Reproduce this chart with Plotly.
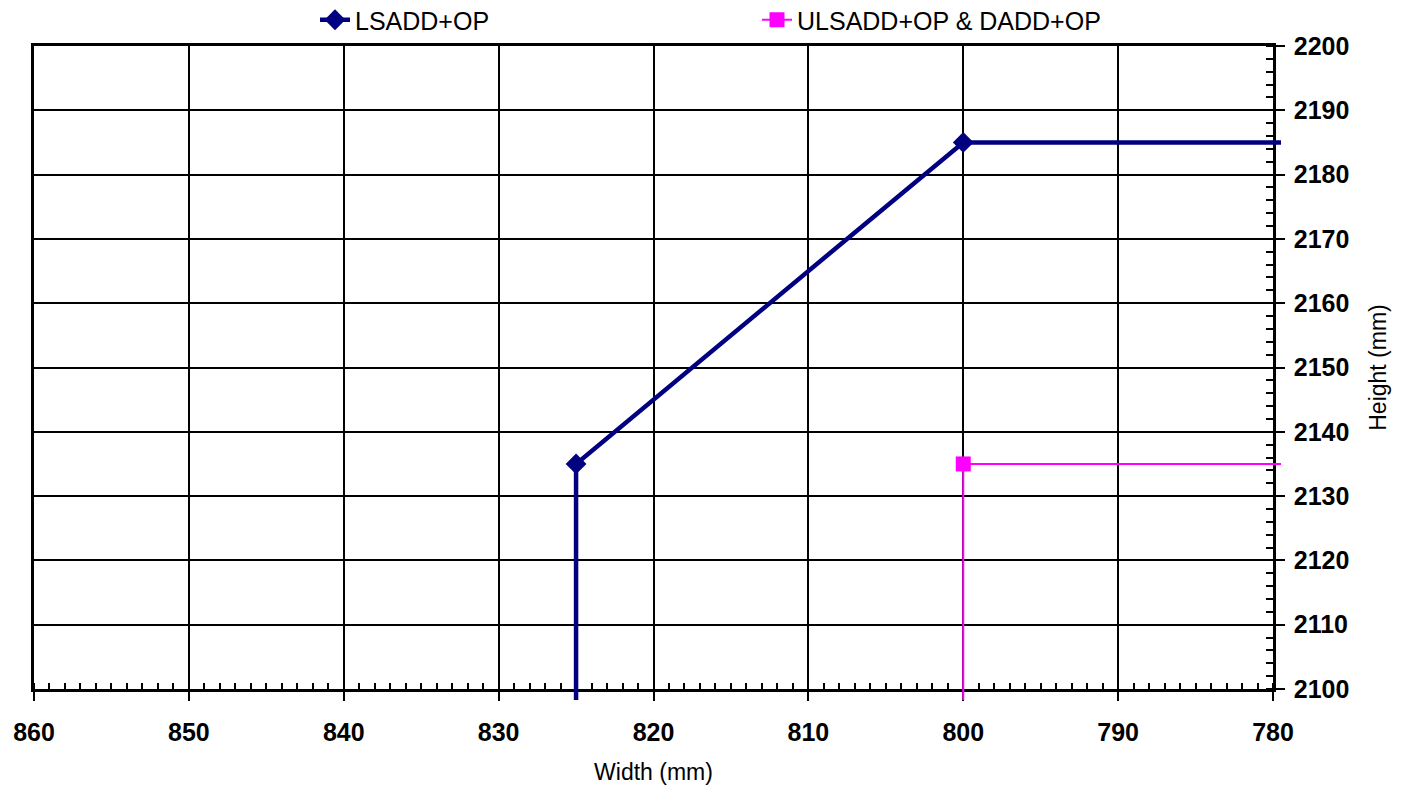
import plotly.graph_objects as go

# Clearance profiles: width (mm) vs height (mm)
lsadd_width = [825, 825, 800, 760]
lsadd_height = [2050, 2135, 2185, 2185]

ulsadd_width = [800, 800, 760]
ulsadd_height = [2050, 2135, 2135]

x_ticks = [860, 850, 840, 830, 820, 810, 800, 790, 780]
y_ticks = [2100, 2110, 2120, 2130, 2140, 2150, 2160, 2170, 2180, 2190, 2200]

X_RANGE = [860, 780]
Y_RANGE = [2100, 2200]

W, H = 1405, 785
# plot frame in pixels
PL, PR, PT, PB = 34, 1273, 46, 689
# the series are clipped to a slightly larger box than the frame
CR, CB = 1281, 700

FONT = "Liberation Sans, Arial, sans-serif"

fig = go.Figure()

# empty trace so the framed grid subplot is drawn
fig.add_trace(go.Scatter(x=[None], y=[None], xaxis="x", yaxis="y",
                         mode="lines", showlegend=False, hoverinfo="skip"))

fig.add_trace(go.Scatter(
    x=lsadd_width, y=lsadd_height, name="LSADD+OP",
    mode="lines+markers", xaxis="x2", yaxis="y2",
    line=dict(color="#000080", width=4.5),
    marker=dict(symbol="diamond", size=16, color="#000080"),
))
fig.add_trace(go.Scatter(
    x=ulsadd_width, y=ulsadd_height, name="ULSADD+OP & DADD+OP",
    mode="lines+markers", xaxis="x2", yaxis="y2",
    line=dict(color="#FF00FF", width=2),
    marker=dict(symbol="square", size=15, color="#FF00FF"),
))

plot_w = CR - PL
plot_h = CB - PT
x_px_per_unit = (PR - PL) / abs(X_RANGE[1] - X_RANGE[0])
y_px_per_unit = (PB - PT) / (Y_RANGE[1] - Y_RANGE[0])
x2_range = [X_RANGE[0], X_RANGE[1] - (CR - PR) / x_px_per_unit]
y2_range = [Y_RANGE[0] - (CB - PB) / y_px_per_unit, Y_RANGE[1]]

tick_font = dict(family=FONT, size=25, color="black", weight="bold")

fig.update_layout(
    width=W, height=H,
    margin=dict(l=PL, r=W - CR, t=PT, b=H - CB, pad=0, autoexpand=False),
    paper_bgcolor="white",
    plot_bgcolor="rgba(0,0,0,0)",
    font=dict(family=FONT, color="black"),
    showlegend=True,
    legend=dict(
        orientation="h", x=(315 - PL) / plot_w, xanchor="left",
        y=1 + (PT - 20) / plot_h, yanchor="middle",
        font=dict(family=FONT, size=25, color="black"),
        entrywidth=397, entrywidthmode="pixels",
        bgcolor="rgba(0,0,0,0)",
    ),
    xaxis=dict(
        domain=[0, (PR - PL) / plot_w], anchor="y",
        range=X_RANGE, tickvals=x_ticks,
        showgrid=True, gridcolor="black", gridwidth=1.5,
        showline=True, linecolor="black", linewidth=2.5, mirror=True,
        ticks="outside", ticklen=9, tickwidth=2, tickcolor="black",
        minor=dict(dtick=1, ticks="inside", ticklen=6, tickwidth=1.5,
                   tickcolor="black", showgrid=False),
        tickfont=tick_font, ticklabelstandoff=10,
        zeroline=False,
        title=dict(text="Width (mm)", font=dict(family=FONT, size=23),
                   standoff=27),
    ),
    yaxis=dict(
        domain=[(CB - PB) / plot_h, 1], anchor="x", side="right",
        range=Y_RANGE, tickvals=y_ticks,
        showgrid=True, gridcolor="black", gridwidth=1.5,
        showline=True, linecolor="black", linewidth=2.5, mirror=True,
        ticks="outside", ticklen=9, tickwidth=2, tickcolor="black",
        minor=dict(dtick=2, ticks="inside", ticklen=7, tickwidth=1.5,
                   tickcolor="black", showgrid=False),
        tickfont=tick_font, ticklabelstandoff=4,
        zeroline=False,
        title=dict(text="Height (mm)", font=dict(family=FONT, size=23),
                   standoff=22),
    ),
    xaxis2=dict(domain=[0, 1], anchor="y2", range=x2_range, visible=False,
                showgrid=False, zeroline=False),
    yaxis2=dict(domain=[0, 1], anchor="x2", range=y2_range, visible=False,
                showgrid=False, zeroline=False),
)

fig.write_html("out.html")
